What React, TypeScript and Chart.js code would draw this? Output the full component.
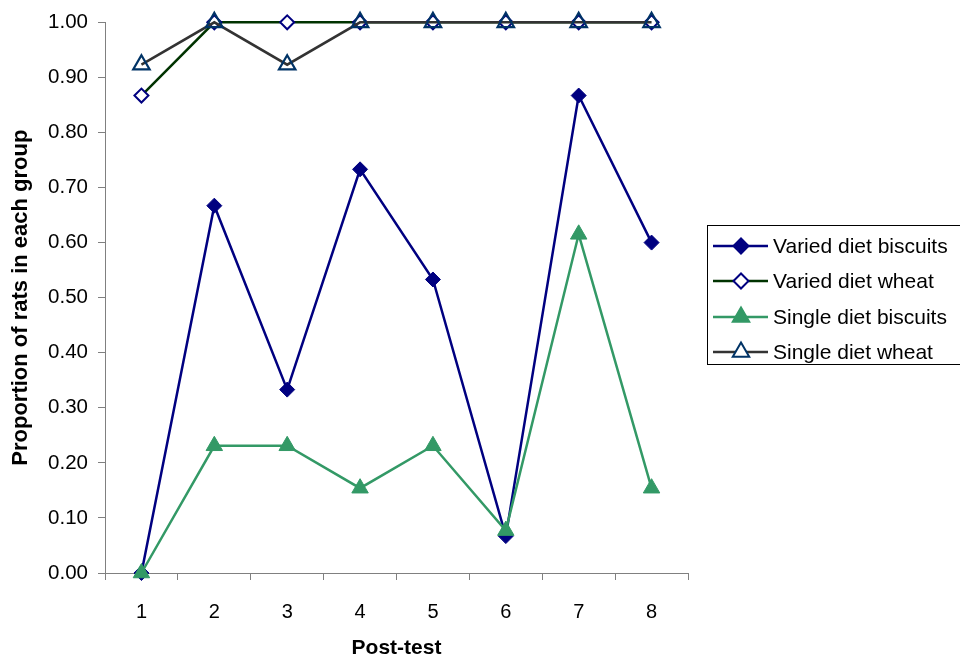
import React, { useEffect, useRef } from 'react';
import { Chart, registerables } from 'chart.js';

Chart.register(...registerables);

const categories = ['1', '2', '3', '4', '5', '6', '7', '8'];
const variedBiscuits = [0, 0.667, 0.333, 0.733, 0.533, 0.067, 0.867, 0.6];
const variedWheat = [0.867, 1, 1, 1, 1, 1, 1, 1];
const singleBiscuits = [0, 0.231, 0.231, 0.154, 0.231, 0.077, 0.615, 0.154];
const singleWheat = [0.923, 1, 0.923, 1, 1, 1, 1, 1];

const seriesNames = ['Varied diet biscuits', 'Varied diet wheat', 'Single diet biscuits', 'Single diet wheat'];
const yTitle = 'Proportion of rats in each group';
const xTitle = 'Post-test';

const FONT = "'Liberation Sans', Arial, Helvetica, sans-serif";
const NAVY = '#000080';
const DKGREEN = '#003300';
const GREEN = '#339966';
const GRAY = '#333333';
const DKBLUE = '#003366';
const AXIS = '#808080';

type LegendItem = { name: string; line: string; shape: 'diamond' | 'triangle'; stroke: string; fill: string };

const legendItems: LegendItem[] = [
  { name: seriesNames[0], line: NAVY, shape: 'diamond', stroke: NAVY, fill: NAVY },
  { name: seriesNames[1], line: DKGREEN, shape: 'diamond', stroke: NAVY, fill: '#ffffff' },
  { name: seriesNames[2], line: GREEN, shape: 'triangle', stroke: GREEN, fill: GREEN },
  { name: seriesNames[3], line: GRAY, shape: 'triangle', stroke: DKBLUE, fill: '#ffffff' },
];

const legendPlugin = {
  id: 'boxLegend',
  afterDraw(chart: any) {
    const ctx = chart.ctx as CanvasRenderingContext2D;
    ctx.save();
    ctx.strokeStyle = '#000';
    ctx.lineWidth = 1;
    ctx.strokeRect(707.5, 225.5, 300, 139);
    const ys = [246, 281, 317, 352];
    legendItems.forEach((it, i) => {
      const y = ys[i];
      ctx.strokeStyle = it.line;
      ctx.lineWidth = 2.5;
      ctx.beginPath();
      ctx.moveTo(713, y);
      ctx.lineTo(768, y);
      ctx.stroke();
      const cx = 741;
      ctx.beginPath();
      if (it.shape === 'diamond') {
        const r = 7.5;
        ctx.moveTo(cx - r, y);
        ctx.lineTo(cx, y - r);
        ctx.lineTo(cx + r, y);
        ctx.lineTo(cx, y + r);
        ctx.closePath();
      } else {
        const r = 9.5;
        const h = Math.sqrt(3) / 2 * r;
        ctx.moveTo(cx, y - r);
        ctx.lineTo(cx + h, y + r / 2);
        ctx.lineTo(cx - h, y + r / 2);
        ctx.closePath();
      }
      ctx.fillStyle = it.fill;
      ctx.fill();
      ctx.strokeStyle = it.stroke;
      ctx.lineWidth = 2;
      ctx.stroke();
      ctx.fillStyle = '#000';
      ctx.font = `21px ${FONT}`;
      ctx.textBaseline = 'middle';
      ctx.textAlign = 'left';
      ctx.fillText(it.name, 773, y + 1);
    });
    ctx.restore();
  },
};

export default function App() {
  const ref = useRef<HTMLCanvasElement>(null);
  useEffect(() => {
    if (!ref.current) return;
    const chart = new Chart(ref.current, {
      type: 'line',
      data: {
        labels: categories,
        datasets: [
          {
            label: seriesNames[0],
            data: variedBiscuits,
            borderColor: NAVY,
            borderWidth: 2.5,
            pointStyle: 'rectRot',
            pointRadius: 7.5,
            pointBackgroundColor: NAVY,
            pointBorderColor: NAVY,
            pointBorderWidth: 1,
            order: 4,
            clip: false,
          },
          {
            label: seriesNames[1],
            data: variedWheat,
            borderColor: DKGREEN,
            borderWidth: 2.5,
            pointStyle: 'rectRot',
            pointRadius: 7,
            pointBackgroundColor: '#ffffff',
            pointBorderColor: NAVY,
            pointBorderWidth: 2,
            order: 3,
            clip: false,
          },
          {
            label: seriesNames[2],
            data: singleBiscuits,
            borderColor: GREEN,
            borderWidth: 2.5,
            pointStyle: 'triangle',
            pointRadius: 9.5,
            pointBackgroundColor: GREEN,
            pointBorderColor: GREEN,
            pointBorderWidth: 1,
            order: 2,
            clip: false,
          },
          {
            label: seriesNames[3],
            data: singleWheat,
            borderColor: GRAY,
            borderWidth: 2.5,
            pointStyle: 'triangle',
            pointRadius: 9.5,
            pointBackgroundColor: 'rgba(255,255,255,0)',
            pointBorderColor: DKBLUE,
            pointBorderWidth: 2.2,
            order: 1,
            clip: false,
          },
        ],
      },
      options: {
        animation: false,
        responsive: false,
        maintainAspectRatio: false,
        layout: { padding: { top: 20, right: 272, bottom: 0, left: 0 } },
        plugins: {
          legend: { display: false },
          tooltip: { enabled: false },
        },
        elements: { line: { tension: 0 } },
        scales: {
          x: {
            type: 'category',
            offset: true,
            grid: {
              display: true,
              drawOnChartArea: false,
              drawTicks: true,
              tickLength: 7,
              color: AXIS,
              offset: true,
            },
            border: { display: true, color: AXIS, width: 1 },
            ticks: {
              color: '#000',
              font: { family: FONT, size: 20 },
              padding: 20,
              maxRotation: 0,
              autoSkip: false,
            },
            title: {
              display: true,
              text: xTitle,
              color: '#000',
              font: { family: FONT, size: 21, weight: 'bold' },
              padding: { top: 0, bottom: 1 },
            },
            afterFit: (s: any) => {
              s.height = 89;
            },
          },
          y: {
            min: 0,
            max: 1,
            grid: {
              display: true,
              drawOnChartArea: false,
              drawTicks: true,
              tickLength: 7,
              color: AXIS,
            },
            border: { display: true, color: AXIS, width: 1 },
            ticks: {
              stepSize: 0.1,
              color: '#000',
              font: { family: FONT, size: 20.5 },
              padding: 10,
              callback: (v: any) => Number(v).toFixed(2),
            },
            title: {
              display: true,
              text: yTitle,
              color: '#000',
              font: { family: FONT, size: 22, weight: 'bold' },
              padding: { top: 8, bottom: 0 },
            },
            afterFit: (s: any) => {
              s.width = 105;
            },
          },
        },
      },
      plugins: [legendPlugin],
    });
    return () => chart.destroy();
  }, []);
  return (
    <div style={{ position: 'absolute', left: 0, top: 0, width: 960, height: 662, background: '#fff' }}>
      <canvas ref={ref} width={960} height={662} style={{ width: 960, height: 662, display: 'block' }} />
    </div>
  );
}
